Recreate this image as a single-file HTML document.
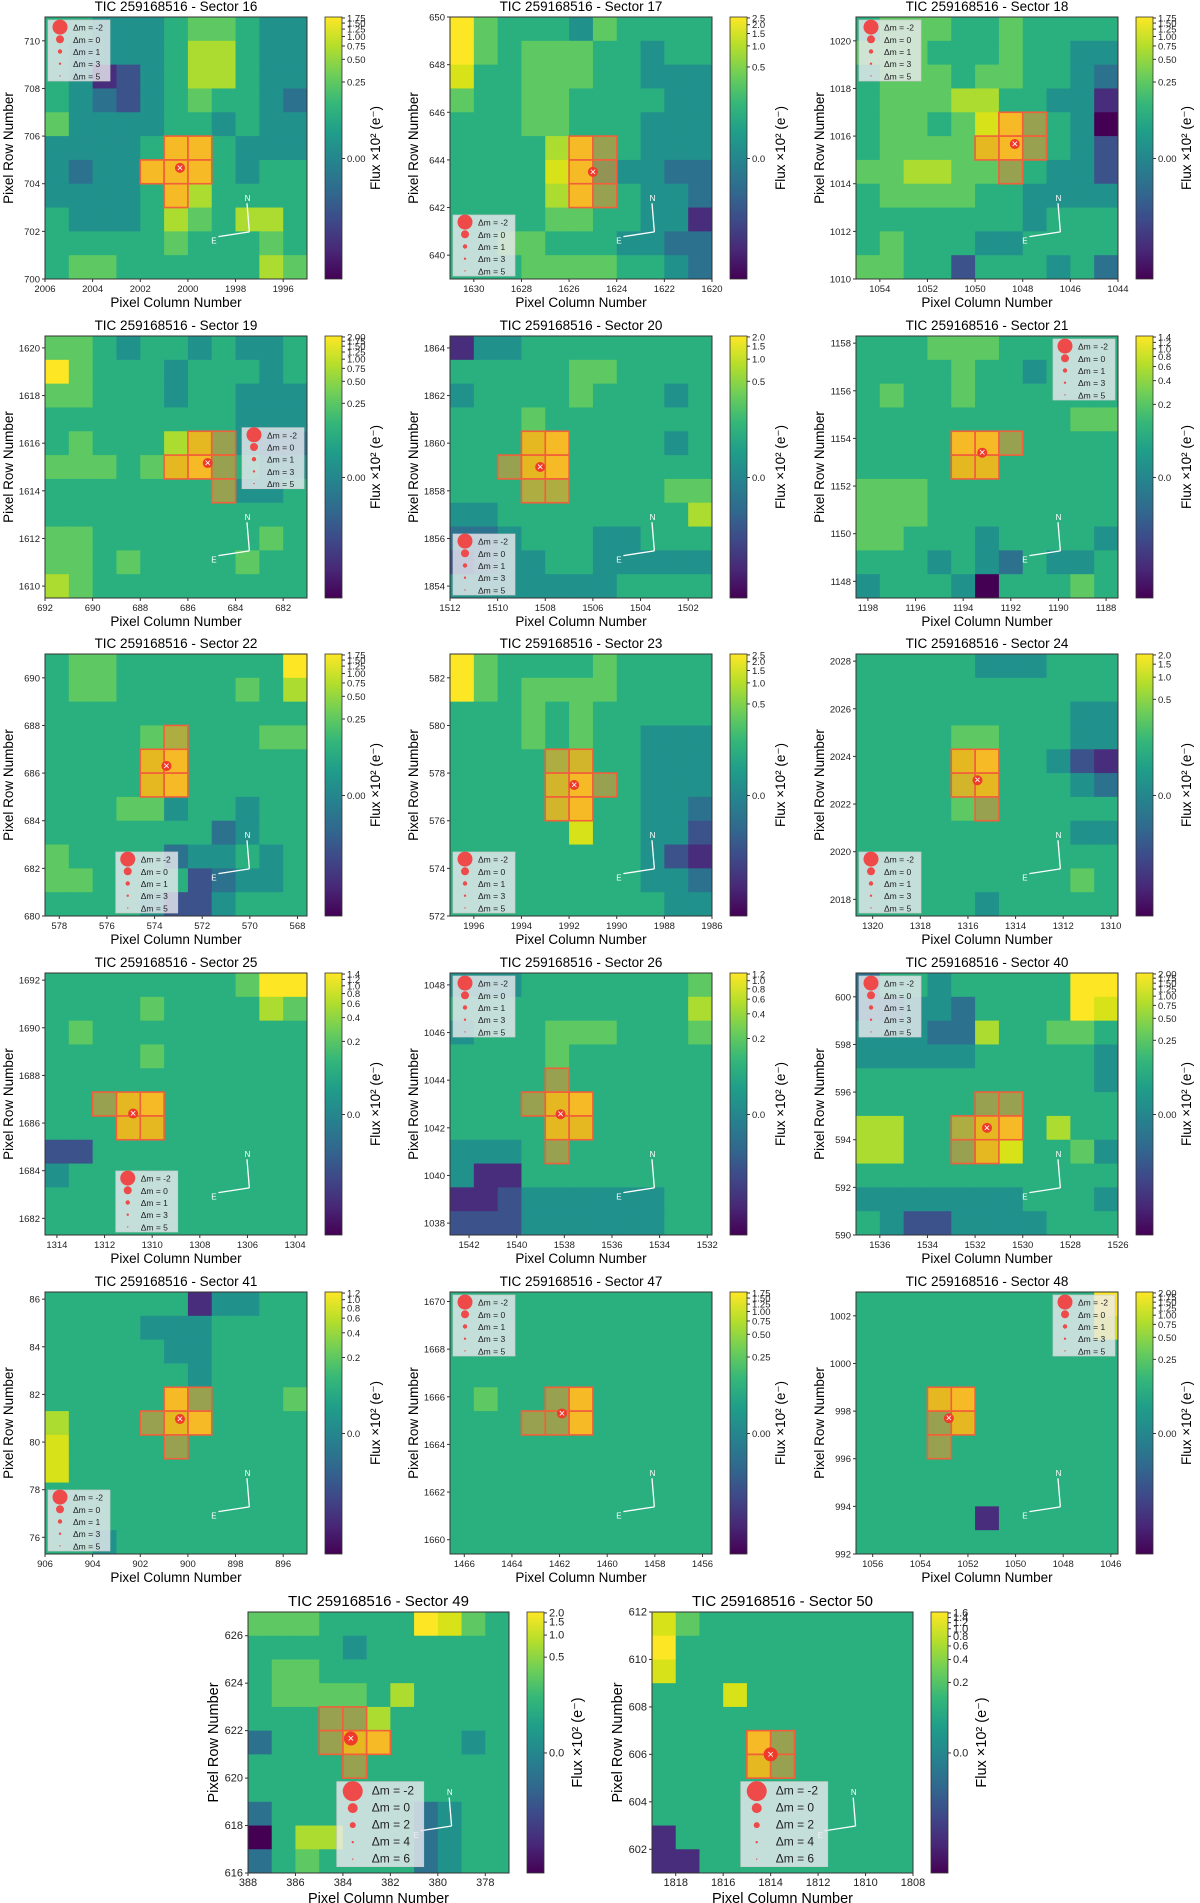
<!DOCTYPE html>
<html><head><meta charset="utf-8"><style>
body{margin:0;background:#fff;}
svg{display:block;font-family:"Liberation Sans",sans-serif;}
</style></head><body>
<svg id="fig" width="1200" height="1903" viewBox="0 0 1200 1903" xmlns="http://www.w3.org/2000/svg">
<defs>
<linearGradient id="viridis" x1="0" y1="1" x2="0" y2="0">
<stop offset="0" stop-color="#440154"/><stop offset="0.11" stop-color="#482878"/><stop offset="0.22" stop-color="#3e4989"/><stop offset="0.33" stop-color="#31688e"/><stop offset="0.44" stop-color="#26828e"/><stop offset="0.56" stop-color="#1f9e89"/><stop offset="0.67" stop-color="#35b779"/><stop offset="0.78" stop-color="#6ece58"/><stop offset="0.89" stop-color="#b5de2b"/><stop offset="1" stop-color="#fde725"/>
</linearGradient>
</defs>
</svg>
<script>
const sectors=[16,17,18,19,20,21,22,23,24,25,26,40,41,47,48,49,50];
const xLeft=[2006,1631,1055,692,1512,1198.5,578.6,1997,1320.7,1314.5,1542.8,1537,906,1466.6,1056.7,388,1819];
const yBottom=[700,639,1010,1609.5,1853.5,1147.3,680,572,2017.3,1681.3,1037.5,590,75.3,1659.4,992,616,601];
const cbTicks=[
[1.75,1.5,1.25,1.0,0.75,0.5,0.25,0],[2.5,2.0,1.5,1.0,0.5,0.0],[1.75,1.5,1.25,1.0,0.75,0.5,0.25,0],
[2.0,1.75,1.5,1.25,1.0,0.75,0.5,0.25,0],[2.0,1.5,1.0,0.5,0.0],[1.4,1.2,1.0,0.8,0.6,0.4,0.2,0.0],
[1.75,1.5,1.25,1.0,0.75,0.5,0.25,0],[2.5,2.0,1.5,1.0,0.5,0.0],[2.0,1.5,1.0,0.5,0.0],
[1.4,1.2,1.0,0.8,0.6,0.4,0.2,0.0],[1.2,1.0,0.8,0.6,0.4,0.2,0.0],[2.0,1.75,1.5,1.25,1.0,0.75,0.5,0.25,0],
[1.2,1.0,0.8,0.6,0.4,0.2,0.0],[1.75,1.5,1.25,1.0,0.75,0.5,0.25,0],[2.0,1.75,1.5,1.25,1.0,0.75,0.5,0.25,0],
[2.0,1.5,1.0,0.5,0.0],[1.6,1.4,1.2,1.0,0.8,0.6,0.4,0.2,0.0]];
const cbDecimals=[2,1,2,2,1,1,2,1,1,1,1,2,1,2,2,1,1];
const grids=[
["55444566544","54444577544","54124577544","54324565543","64444554544","44445995444","43449995455","44445975555","54445765775","55555655565","56655555576"],
["96555465555","96566655455","85566655444","65566555544","55566555444","55557955444","55558944433","55557955443","55556655441","55665554433","55566665543"],
["56665565555","66655565544","56665665543","56667755441","56656895540","56666895542","66776655442","56666554444","55555554555","56555445555","66552555453"],
["66545545445","96555455545","66555455444","55555555444","56555785433","66656895544","55555555445","55555555555","66555555565","66565555655","76555555555"],
["14455555555","55555665555","45555655545","55565555555","55589555545","55589555555","55566555566","44555555557","33455544555","23445544444","44444445555"],
["55566655555","55556554555","56556555555","55555555566","55559955555","55558855555","66655555555","66655555555","66555455554","55545435445","45554055565"],
["56655555559","56655555657","55555555555","55556655566","55558955555","55558955555","55566455455","55555553455","65555344545","66555523445","55554224555"],
["96555565555","96566665555","55565655555","55565655444","55556755444","55557955444","55557955443","55555855442","55555555421","55555555443","55555555544"],
["55555444555","55555555555","55555555544","55556655544","55558955421","55557855543","55556555555","55555555544","55555555555","55555555565","55555455555"],
["55555555699","55556555576","56555555555","55556555555","55555555555","55589555555","55588555555","22555555555","45555555555","55555555555","55555555555"],
["44455555556","55555555557","45556665556","55556555555","55555555555","55558955555","55558855555","44455555555","41155555555","11244444455","22244444455"],
["35545555599","33443555598","44433755665","44444555554","55555555554","55555555555","77556895755","77555885564","55555555555","44444445554","54224444555"],
["55555514455","55554445555","55555445555","55555545555","55555955556","75555895555","85555555555","85555555555","55555555555","55555555555","55455555555"],
["55555555555","55555555555","55555555555","55555555555","56555955555","55555955555","55555555555","55555555555","55555555555","55555555555","55555555555"],
["55555555559","55555555558","55555555555","55555555555","55589555555","55558555555","55555555555","55555555555","55555555555","55555155555","55555555555"],
["66655559865","55554555555","56655555555","56666575555","55555755555","35558955545","55555555555","55555555555","35555553455","05775553455","35655553455"],
["86555555555","95555555555","85555555555","55585555555","55555555555","55559555555","55558555555","55555555555","55555555555","15555555555","11555555555"]];
const apertures=["5,5;6,5;4,6;5,6;6,6;5,7","5,5;6,5;5,6;6,6;5,7;6,7","6,4;7,4;5,5;6,5;7,5;6,6","6,4;7,4;6,5;7,5;5,5;7,6","3,4;4,4;2,5;3,5;4,5;3,6;4,6","4,4;5,4;4,5;5,5;6,4","4,4;5,4;4,5;5,5;5,3","4,4;5,4;4,5;5,5;6,5;4,6;5,6","4,4;5,4;4,5;5,5;5,6","3,5;4,5;3,6;4,6;2,5","4,5;5,5;4,6;5,6;3,5;4,4;4,7","5,5;6,5;4,6;5,6;6,6;4,7;5,7","5,4;5,5;6,5;4,5;5,6;6,4","4,4;5,4;4,5;5,5;3,5","3,4;4,4;3,5;4,5;3,6","3,4;4,4;3,5;4,5;5,5;4,6","4,5;5,5;4,6;5,6"];
const legendPos=["tl","bl","tl","mr","bl","tr","bc","bl","bl","bc","tl","tl","bl","tl","tr","bb","bb"];
const legLabelsA=["-2","0","1","3","5"];
const legLabelsB=["-2","0","2","4","6"];

const NS="http://www.w3.org/2000/svg";
const fig=document.getElementById('fig');
const vir=["#440154","#472d7b","#3b528b","#2c728e","#21918c","#2ab07f","#5ec962","#addc30","#d8e219","#fde725"];
function el(tag,attrs,parent){const e=document.createElementNS(NS,tag);for(const k in attrs)e.setAttribute(k,attrs[k]);(parent||fig).appendChild(e);return e;}
function txt(s,attrs,parent){const e=el('text',attrs,parent);e.textContent=s;return e;}

const colX=[45,450,856], rowY=[17,336,654,973,1292];
sectors.forEach((sec,p)=>{
  let L,T,S=262,big=false;
  if(p<15){L=colX[p%3];T=rowY[Math.floor(p/3)];}else{L=p==15?248:652;T=1612;S=261;big=true;}
  const n=11,cs=S/n;
  const g=el('g',{});
  
  
  const fs=big?11:9.5;
  const tt=txt('TIC 259168516 - Sector '+sec,{x:L+S/2,y:T-6,'text-anchor':'middle','font-size':big?15:13.5},g);
  
  
  const grid=grids[p];
  const xs=c=>L+c*cs, ys=r=>T+r*cs;
  for(let r=0;r<n;r++)for(let c=0;c<n;c++){
    const v=+grid[r][c];
    const cell=el('rect',{x:xs(c),y:ys(r),width:cs+0.5,height:cs+0.5,fill:vir[v]},g);
    
    
  }
  apertures[p].split(';').forEach(s=>{
    const [c,r]=s.split(',').map(Number);
    const a=el('rect',{x:xs(c),y:ys(r),width:cs,height:cs,fill:'rgba(240,150,40,0.55)',stroke:'#f0603a','stroke-width':1.6},g);
    
    
  });
  const ap=apertures[p].split(';').map(s=>s.split(',').map(Number));
  let cx=0,cy=0;ap.forEach(q=>{cx+=q[0]+0.5;cy+=q[1]+0.5});cx=xs(cx/ap.length);cy=ys(cy/ap.length);
  const tgt=el('circle',{cx:cx,cy:cy,r:big?7:5,fill:'#f03a2a'},g);
  
  
  txt('×',{x:cx,y:cy+3.5,'text-anchor':'middle','font-size':11,fill:'#fff'},g);
  el('rect',{x:L,y:T,width:S,height:S,fill:'none',stroke:'#333','stroke-width':1},g);
  const x0=xLeft[p];
  for(let k=0;k<12;k++){
    const val=Math.ceil(x0)-k; if(val%2!==0) continue;
    const px=L+(x0-val)*cs; if(px<L-0.5||px>L+S+0.5) continue;
    el('line',{x1:px,y1:T+S,x2:px,y2:T+S+3,stroke:'#333'},g);
    const t=txt(String(val),{x:px,y:T+S+13,'text-anchor':'middle','font-size':fs,fill:'#222'},g);
    
    
  }
  const y0=yBottom[p];
  for(let k=0;k<12;k++){
    const val=Math.ceil(y0)+k; if(val%2!==0) continue;
    const py=T+S-(val-y0)*cs; if(py<T-0.5||py>T+S+0.5) continue;
    el('line',{x1:L-3,y1:py,x2:L,y2:py,stroke:'#333'},g);
    const t=txt(String(val),{x:L-5,y:py+3.5,'text-anchor':'end','font-size':fs,fill:'#222'},g);
    
    
  }
  const xl=txt('Pixel Column Number',{x:L+S/2,y:T+S+(big?30:28),'text-anchor':'middle','font-size':big?14.5:13.5},g);
  
  
  const yl=txt('Pixel Row Number',{x:0,y:0,'text-anchor':'middle','font-size':big?14.5:13.5,transform:`translate(${L-(big?30:32)},${T+S/2}) rotate(-90)`},g);
  
  
  const ox=L+S*0.78, oy=T+S*0.82;
  el('line',{x1:ox,y1:oy,x2:ox-cs*0.1,y2:oy-cs*1.2,stroke:'#fff','stroke-width':1.3},g);
  el('line',{x1:ox,y1:oy,x2:ox-cs*1.3,y2:oy+cs*0.2,stroke:'#fff','stroke-width':1.3},g);
  txt('N',{x:ox-cs*0.2,y:oy-cs*1.3,'font-size':8,fill:'#fff'},g);
  txt('E',{x:ox-cs*1.6,y:oy+cs*0.5,'font-size':8,fill:'#fff'},g);
  const lw=big?87:62, lh=big?85:61;
  let lx,ly;const lp=legendPos[p];
  if(lp=='tl'){lx=L+3;ly=T+3;}else if(lp=='bl'){lx=L+3;ly=T+S-lh-3;}else if(lp=='tr'){lx=L+S-lw-3;ly=T+3;}
  else if(lp=='mr'){lx=L+S-lw-3;ly=T+S*0.35;}else if(lp=='bc'){lx=L+S*0.27;ly=T+S-lh-3;}else{lx=L+S*0.34;ly=T+S*0.65;}
  const lg=el('g',{},g);
  
  
  el('rect',{x:lx,y:ly,width:lw,height:lh,fill:'rgba(235,235,240,0.8)',stroke:'#ccc','stroke-width':0.7},lg);
  const labs=big?legLabelsB:legLabelsA, rads=[big?10:7.5,big?5:4,big?3:2.2,1.2,0.7];
  labs.forEach((lab,i)=>{
    const yy=ly+lh*(i+0.5)/5+1;
    el('circle',{cx:lx+(big?16:12),cy:yy,r:rads[i],fill:'#ef4a4a'},lg);
    const t=txt('Δm = '+lab,{x:lx+(big?35:25),y:yy+3.5,'font-size':big?12:8.5,fill:'#222'},lg);
    
    
  });
  const cbx=L+S+18, cbw=17;
  const cb=el('rect',{x:cbx,y:T,width:cbw,height:S,fill:'url(#viridis)',stroke:'#333','stroke-width':0.8},g);
  
  
  const tk=cbTicks[p], vmax=tk[0]*1.03, c0=0.05;
  const f=v=>0.46+0.54*Math.asinh(v/c0)/Math.asinh(vmax/c0);
  tk.forEach(v=>{
    const py=T+S*(1-f(v));
    el('line',{x1:cbx+cbw,y1:py,x2:cbx+cbw+3,y2:py,stroke:'#333'},g);
    const t=txt(v.toFixed(cbDecimals[p]),{x:cbx+cbw+5,y:py+3.5,'font-size':fs,fill:'#222'},g);
    
    
  });
  const cl=txt('Flux ×10² (e⁻)',{x:0,y:0,'text-anchor':'middle','font-size':big?14.5:13.5,transform:`translate(${cbx+cbw+38},${T+S/2}) rotate(-90)`},g);
  
  
});
</script>
</body></html>
